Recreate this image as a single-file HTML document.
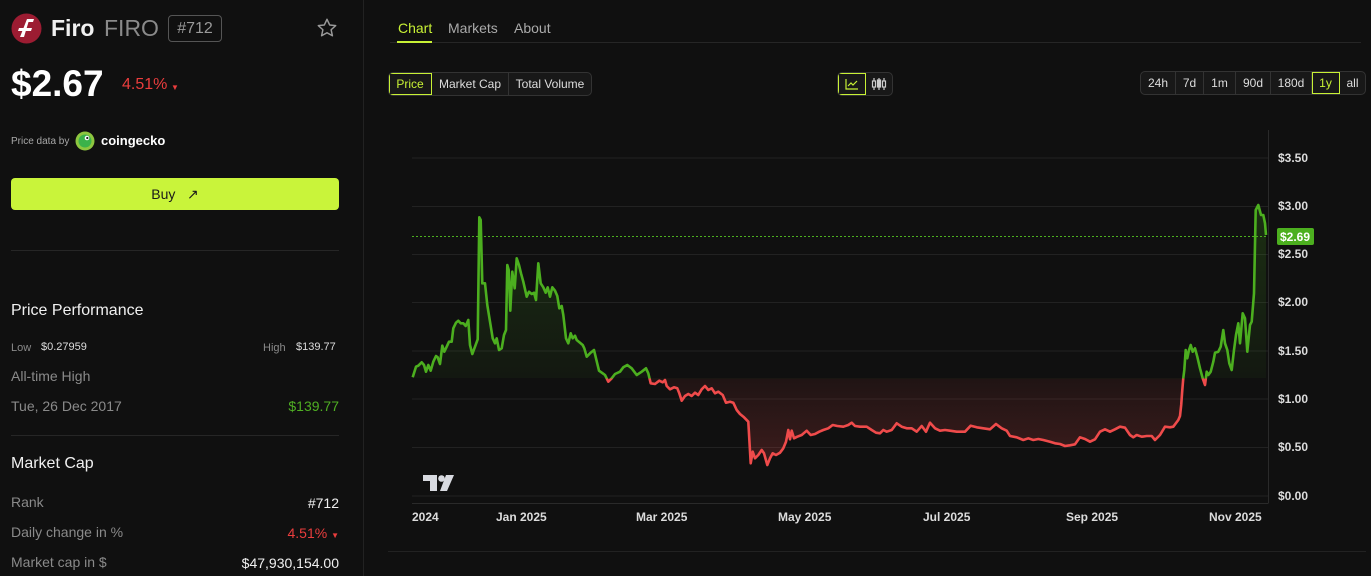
<!DOCTYPE html>
<html><head><meta charset="utf-8">
<style>
*{margin:0;padding:0;box-sizing:border-box}
body{width:1371px;height:576px;background:#101010;font-family:"Liberation Sans",Arial,sans-serif;overflow:hidden;position:relative;color:#eee}
.a{position:absolute;white-space:nowrap}
.g{color:#8a8a8a}
.w{color:#f0f0f0}
.r{color:#ea3d3d}
.seg{position:absolute;top:72px;height:24px;border:1px solid #333;background:#181818;border-radius:5px;display:flex;overflow:hidden}
.seg div{height:100%;display:flex;align-items:center;justify-content:center;font-size:12px;color:#ddd;border-right:1px solid #333}
.seg div:last-child{border-right:none}
.seg .on{color:#c8f135;outline:1px solid #c8f135;outline-offset:-1px}
.yl{position:absolute;left:1278px;font-size:12px;font-weight:bold;color:#dcdcdc;line-height:14px}
.xl{position:absolute;top:510px;font-size:12px;font-weight:bold;color:#dcdcdc;line-height:14px}
</style></head><body>

<!-- left panel -->
<div class="a" style="left:363px;top:0;width:1px;height:576px;background:#222"></div>
<svg class="a" style="left:11px;top:13px" width="31" height="31" viewBox="0 0 31 31">
<circle cx="15.5" cy="15.5" r="15" fill="#9c1c32"/>
<path d="M9 24 L13 24 L17.5 9 L22 9 L23 6 L16 6 Z" fill="#fff"/>
<path d="M7 18 L20 18 L21 15 L8 15 Z" fill="#fff"/>
</svg>
<div class="a w" style="left:51px;top:14px;font-size:23px;font-weight:bold;line-height:28px">Firo</div>
<div class="a" style="left:104px;top:14px;font-size:23px;color:#8a8a8a;line-height:28px">FIRO</div>
<div class="a" style="left:168px;top:15px;width:54px;height:27px;border:1px solid #555;border-radius:4px;font-size:16px;color:#9a9a9a;line-height:25px;text-align:center">#712</div>
<svg class="a" style="left:316px;top:17px" width="22" height="22" viewBox="0 0 24 24"><path d="M12 2.5l2.9 6.2 6.6.7-5 4.5 1.4 6.6L12 17.2l-5.9 3.3 1.4-6.6-5-4.5 6.6-.7z" fill="none" stroke="#9a9a9a" stroke-width="1.6" stroke-linejoin="round"/></svg>

<div class="a w" style="left:11px;top:63px;font-size:37px;font-weight:bold;line-height:42px;color:#fff">$2.67</div>
<div class="a r" style="left:122px;top:75px;font-size:16px;line-height:19px">4.51%</div>
<div class="a r" style="left:171px;top:83px;font-size:8px;line-height:10px">▼</div>

<div class="a" style="left:11px;top:136px;font-size:10px;color:#a8a8a8;line-height:12px">Price data by</div>
<svg class="a" style="left:75px;top:131px" width="20" height="20" viewBox="0 0 20 20"><circle cx="10" cy="10" r="9.5" fill="#8dc63f"/><circle cx="10" cy="10" r="6.5" fill="#3bb24a"/><circle cx="12" cy="7" r="2.3" fill="#fff"/><circle cx="12.3" cy="7" r="1.1" fill="#222"/></svg>
<div class="a" style="left:101px;top:133px;font-size:13px;font-weight:bold;color:#fff;line-height:16px">coingecko</div>

<div class="a" style="left:11px;top:178px;width:328px;height:32px;background:#c9f43a;border-radius:4px;font-size:14px;color:#1a1a1a;line-height:32px;text-align:center">Buy &nbsp; <span style="font-size:14px">↗</span></div>

<div class="a" style="left:11px;top:250px;width:328px;height:1px;background:#262626"></div>

<div class="a w" style="left:11px;top:301px;font-size:16px;line-height:19px">Price Performance</div>
<div class="a g" style="left:11px;top:342px;font-size:11px;line-height:13px">Low</div>
<div class="a" style="left:41px;top:341px;font-size:11px;color:#ddd;line-height:13px">$0.27959</div>
<div class="a g" style="left:263px;top:342px;font-size:11px;line-height:13px">High</div>
<div class="a" style="left:296px;top:341px;font-size:11px;color:#ddd;line-height:13px">$139.77</div>
<div class="a g" style="left:11px;top:368px;font-size:14px;line-height:16px">All-time High</div>
<div class="a g" style="left:11px;top:398px;font-size:14px;line-height:16px">Tue, 26 Dec 2017</div>
<div class="a" style="right:1032px;top:398px;font-size:14px;line-height:16px;color:#4fae23">$139.77</div>
<div class="a" style="left:11px;top:435px;width:328px;height:1px;background:#262626"></div>
<div class="a w" style="left:11px;top:454px;font-size:16px;line-height:19px">Market Cap</div>
<div class="a g" style="left:11px;top:494px;font-size:14px;line-height:16px">Rank</div>
<div class="a w" style="right:1032px;top:495px;font-size:14px;line-height:16px">#712</div>
<div class="a g" style="left:11px;top:524px;font-size:14px;line-height:16px">Daily change in %</div>
<div class="a r" style="right:1032px;top:525px;font-size:14px;line-height:16px">4.51% <span style="font-size:8px">▼</span></div>
<div class="a g" style="left:11px;top:554px;font-size:14px;line-height:16px">Market cap in $</div>
<div class="a w" style="right:1032px;top:555px;font-size:14px;line-height:16px">$47,930,154.00</div>

<!-- tabs -->
<div class="a" style="left:398px;top:20px;font-size:14px;color:#c8f135;line-height:17px">Chart</div>
<div class="a" style="left:448px;top:20px;font-size:14px;color:#aaa;line-height:17px">Markets</div>
<div class="a" style="left:514px;top:20px;font-size:14px;color:#aaa;line-height:17px">About</div>
<div class="a" style="left:390px;top:42px;width:971px;height:1px;background:#262626"></div>
<div class="a" style="left:397px;top:41px;width:35px;height:2px;background:#c8f135"></div>

<div class="seg" style="left:388px;width:204px">
<div class="on" style="width:43px">Price</div><div style="width:77px">Market Cap</div><div style="flex:1">Total Volume</div></div>
<div class="seg" style="left:837px;width:56px">
<div class="on" style="width:28px"><svg width="14" height="12" viewBox="0 0 14 12"><path d="M1 1V11H13" fill="none" stroke="#c8f135" stroke-width="1.2"/><path d="M3 8L6 5L8 7L12 3" fill="none" stroke="#c8f135" stroke-width="1.2"/></svg></div>
<div style="flex:1"><svg width="16" height="12" viewBox="0 0 16 12"><g fill="none" stroke="#ccc" stroke-width="1.2"><rect x="1.5" y="3" width="3" height="6"/><path d="M3 0V3M3 9V12"/><rect x="6.5" y="2" width="3" height="7" fill="#ccc"/><path d="M8 0V2M8 9V12"/><rect x="11.5" y="3" width="3" height="6"/><path d="M13 0V3M13 9V12"/></g></svg></div></div>
<div class="seg" style="left:1140px;width:226px;top:71px">
<div style="width:35px">24h</div><div style="width:28px">7d</div><div style="width:32px">1m</div><div style="width:35px">90d</div><div style="width:41px">180d</div><div class="on" style="width:28px">1y</div><div style="flex:1">all</div></div>

<!-- axis labels -->
<div class="yl" style="top:151px">$3.50</div>
<div class="yl" style="top:199px">$3.00</div>
<div class="yl" style="top:247px">$2.50</div>
<div class="yl" style="top:295px">$2.00</div>
<div class="yl" style="top:344px">$1.50</div>
<div class="yl" style="top:392px">$1.00</div>
<div class="yl" style="top:440px">$0.50</div>
<div class="yl" style="top:489px">$0.00</div>

<div class="xl" style="left:412px">2024</div>
<div class="xl" style="left:496px">Jan 2025</div>
<div class="xl" style="left:636px">Mar 2025</div>
<div class="xl" style="left:778px">May 2025</div>
<div class="xl" style="left:923px">Jul 2025</div>
<div class="xl" style="left:1066px">Sep 2025</div>
<div class="xl" style="left:1209px">Nov 2025</div>

<!-- chart -->
<svg class="a" style="left:0;top:0" width="1371" height="576" viewBox="0 0 1371 576">
<defs>
<clipPath id="cg"><rect x="400" y="100" width="880" height="278.5"/></clipPath>
<clipPath id="cr"><rect x="400" y="378.5" width="880" height="130"/></clipPath>
<linearGradient id="fg" gradientUnits="userSpaceOnUse" x1="0" y1="205" x2="0" y2="378"><stop offset="0" stop-color="#4caf1f" stop-opacity="0.2"/><stop offset="1" stop-color="#4caf1f" stop-opacity="0.05"/></linearGradient>
<linearGradient id="fr" gradientUnits="userSpaceOnUse" x1="0" y1="378" x2="0" y2="465"><stop offset="0" stop-color="#ef4b4b" stop-opacity="0.07"/><stop offset="1" stop-color="#ef4b4b" stop-opacity="0.2"/></linearGradient>
<polyline id="pl" points="412.7,377.3 416,366.7 418.3,365.7 421.7,362.3 424,365 426,371.7 428.3,365 430.7,370.7 433.3,361.7 436,356 437.7,357.3 440,364 442.3,345.7 444.3,351.7 446.7,346.7 449,341.7 451.7,341.7 453.3,328.3 456,322.7 458.3,320.7 460.7,323.3 463.3,323.3 465.7,326 468.3,320 470,345 472.3,354 475,346.7 477.7,339.3 479.3,217.3 480.7,220 482.3,283.3 485,283.3 487.3,305 490,321.7 492.7,338.3 495,343.3 496.7,338.3 499,350 501.7,348.3 504,335 506,330 507.3,265 508.7,270 510.3,310.7 512.3,271.7 514.7,288.3 516.7,258.3 519,265 521,273.3 523.3,281.7 526.7,296.7 529,291.7 531.7,294 534,292.7 536,300 538.3,263.3 540.7,283.3 543.3,287.3 545.7,292.7 547.7,287.3 550,296.7 552.3,287.3 555,290.7 557.3,296 559.3,308.3 561.7,306 563.3,315 566,338.3 568.3,343.3 570.7,333.3 572.7,338.3 575,335.7 576.7,340 580,342.7 582.7,345 584.3,348.3 586.7,356.7 590,353.3 594,350 596,358.3 599,370.7 602.7,373.3 605,375 608.3,381.7 611.7,378.3 615,374 620,371.7 623.3,367.3 627.3,365 631.7,368.3 636.7,375 641.7,371.7 646,368.3 648.3,373.3 650.7,383.3 655,384 659.3,380.7 662.7,382.3 665,380 666.7,386 670,389.3 674,387.3 677.3,388.3 679.3,393.3 681.7,400.7 685,396 688.3,394 691.7,396 695,392.7 698.3,395 701.7,389.3 705,386 708.3,390 711.7,388.3 715,393.3 718.3,391.7 722.7,395 726,402.7 730,401.7 733.3,402.7 736.7,410 740,414 744,417.3 748.3,421.7 750.7,463.3 752.7,451.7 755,458.3 758.3,455 761.7,450 764,453.3 767.3,465 770,458.3 772.7,453.3 776,455 780,452.7 783.3,448.3 786,441.7 788.3,430 790,439.3 791.7,430.7 794,438.3 797.3,436.7 801.7,435 806.7,430.7 810.7,435 815,434 819.3,431.7 823.3,430 828.3,428.3 832.7,425 837.3,426 843.3,426.7 848.3,425 851.7,422.7 855,426 860,426.7 866.7,426.7 871.7,430 876,432.7 880,433.3 883.3,430 886.7,431.7 891.7,430 896.7,423.3 901.7,426.7 906.7,428.3 911.7,428.3 916.7,431.7 921.7,426 926,431.7 930,422.7 935,428.3 940,430.7 945,430 950,430.7 956.7,431.7 965,431.7 970.7,425.7 976.7,427.3 983.3,428.3 990,429.3 996,424 1001.7,428.3 1006.7,430.7 1010,436 1016.7,437.3 1023.3,440 1028.3,438.3 1033.3,440 1038.3,439 1043.3,440 1050,441.7 1055,443.3 1060,444 1065,446 1070,445.3 1075,444.3 1080,437.3 1085,439 1090,441.7 1095,439.3 1100,431.7 1105,429.3 1110,431.7 1115,429.3 1120,426.7 1125,427.7 1130,435 1133.3,437.3 1136.7,435 1141.7,436.7 1146.7,436 1151.7,436 1155,440 1160,435 1165,426.7 1170,427.3 1173.3,426.7 1178.3,420 1180,416 1181.2,405 1182.3,390 1183.3,378 1184.3,370 1185.7,350 1187.3,358.3 1189,350 1190.7,345 1192.7,351.7 1195,348.3 1197.3,356.7 1200,368.3 1202.7,378.3 1205,385 1206.7,371.7 1208.3,375 1210.7,371.7 1213.3,361.7 1215,352.7 1218.3,351.7 1220.7,346.7 1223.3,330 1225,343.3 1227.3,350 1229.3,363.3 1231.7,370 1234,350 1236,335 1238.3,323.3 1240,343.3 1242.7,313.3 1245,318.3 1247.3,351.7 1250,325 1251.7,321.7 1254,293.3 1255.7,210 1258.3,205 1261,215 1263.3,215 1265,223.3 1266,235"/>
</defs>
<g stroke="#222" stroke-width="1">
<line x1="412" y1="158" x2="1268" y2="158"/>
<line x1="412" y1="206.5" x2="1268" y2="206.5"/>
<line x1="412" y1="254.5" x2="1268" y2="254.5"/>
<line x1="412" y1="302.5" x2="1268" y2="302.5"/>
<line x1="412" y1="351" x2="1268" y2="351"/>
<line x1="412" y1="399" x2="1268" y2="399"/>
<line x1="412" y1="447.5" x2="1268" y2="447.5"/>
<line x1="412" y1="496" x2="1268" y2="496"/>
</g>
<line x1="412" y1="503.5" x2="1268" y2="503.5" stroke="#2a2a2a"/>
<line x1="1268.5" y1="130" x2="1268.5" y2="503.5" stroke="#2a2a2a"/>
<line x1="388" y1="551.5" x2="1366" y2="551.5" stroke="#222"/>

<g clip-path="url(#cg)">
<polygon fill="url(#fg)" points="412.7,378 412.7,377.3 416,366.7 418.3,365.7 421.7,362.3 424,365 426,371.7 428.3,365 430.7,370.7 433.3,361.7 436,356 437.7,357.3 440,364 442.3,345.7 444.3,351.7 446.7,346.7 449,341.7 451.7,341.7 453.3,328.3 456,322.7 458.3,320.7 460.7,323.3 463.3,323.3 465.7,326 468.3,320 470,345 472.3,354 475,346.7 477.7,339.3 479.3,217.3 480.7,220 482.3,283.3 485,283.3 487.3,305 490,321.7 492.7,338.3 495,343.3 496.7,338.3 499,350 501.7,348.3 504,335 506,330 507.3,265 508.7,270 510.3,310.7 512.3,271.7 514.7,288.3 516.7,258.3 519,265 521,273.3 523.3,281.7 526.7,296.7 529,291.7 531.7,294 534,292.7 536,300 538.3,263.3 540.7,283.3 543.3,287.3 545.7,292.7 547.7,287.3 550,296.7 552.3,287.3 555,290.7 557.3,296 559.3,308.3 561.7,306 563.3,315 566,338.3 568.3,343.3 570.7,333.3 572.7,338.3 575,335.7 576.7,340 580,342.7 582.7,345 584.3,348.3 586.7,356.7 590,353.3 594,350 596,358.3 599,370.7 602.7,373.3 605,375 608.3,381.7 611.7,378.3 615,374 620,371.7 623.3,367.3 627.3,365 631.7,368.3 636.7,375 641.7,371.7 646,368.3 648.3,373.3 650.7,383.3 1180,416 1181.2,405 1182.3,390 1183.3,378 1184.3,370 1185.7,350 1187.3,358.3 1189,350 1190.7,345 1192.7,351.7 1195,348.3 1197.3,356.7 1200,368.3 1202.7,378.3 1205,385 1206.7,371.7 1208.3,375 1210.7,371.7 1213.3,361.7 1215,352.7 1218.3,351.7 1220.7,346.7 1223.3,330 1225,343.3 1227.3,350 1229.3,363.3 1231.7,370 1234,350 1236,335 1238.3,323.3 1240,343.3 1242.7,313.3 1245,318.3 1247.3,351.7 1250,325 1251.7,321.7 1254,293.3 1255.7,210 1258.3,205 1261,215 1263.3,215 1265,223.3 1266,235 1266,378"/>
</g>
<g clip-path="url(#cr)">
<polygon fill="url(#fr)" points="602.7,378 605,375 608.3,381.7 611.7,378.3 615,374 646,368.3 648.3,373.3 650.7,383.3 655,384 659.3,380.7 662.7,382.3 665,380 666.7,386 670,389.3 674,387.3 677.3,388.3 679.3,393.3 681.7,400.7 685,396 688.3,394 691.7,396 695,392.7 698.3,395 701.7,389.3 705,386 708.3,390 711.7,388.3 715,393.3 718.3,391.7 722.7,395 726,402.7 730,401.7 733.3,402.7 736.7,410 740,414 744,417.3 748.3,421.7 750.7,463.3 752.7,451.7 755,458.3 758.3,455 761.7,450 764,453.3 767.3,465 770,458.3 772.7,453.3 776,455 780,452.7 783.3,448.3 786,441.7 788.3,430 790,439.3 791.7,430.7 794,438.3 797.3,436.7 801.7,435 806.7,430.7 810.7,435 815,434 819.3,431.7 823.3,430 828.3,428.3 832.7,425 837.3,426 843.3,426.7 848.3,425 851.7,422.7 855,426 860,426.7 866.7,426.7 871.7,430 876,432.7 880,433.3 883.3,430 886.7,431.7 891.7,430 896.7,423.3 901.7,426.7 906.7,428.3 911.7,428.3 916.7,431.7 921.7,426 926,431.7 930,422.7 935,428.3 940,430.7 945,430 950,430.7 956.7,431.7 965,431.7 970.7,425.7 976.7,427.3 983.3,428.3 990,429.3 996,424 1001.7,428.3 1006.7,430.7 1010,436 1016.7,437.3 1023.3,440 1028.3,438.3 1033.3,440 1038.3,439 1043.3,440 1050,441.7 1055,443.3 1060,444 1065,446 1070,445.3 1075,444.3 1080,437.3 1085,439 1090,441.7 1095,439.3 1100,431.7 1105,429.3 1110,431.7 1115,429.3 1120,426.7 1125,427.7 1130,435 1133.3,437.3 1136.7,435 1141.7,436.7 1146.7,436 1151.7,436 1155,440 1160,435 1165,426.7 1170,427.3 1173.3,426.7 1178.3,420 1180,416 1181.2,405 1182.3,390 1183.3,378 1200,378 1202.7,378.3 1205,385 1206.7,371.7"/>
</g>

<use href="#pl" clip-path="url(#cg)" fill="none" stroke="#4caf1f" stroke-width="2.6" stroke-linejoin="round"/>
<use href="#pl" clip-path="url(#cr)" fill="none" stroke="#ef4b4b" stroke-width="2.6" stroke-linejoin="round"/>

<!-- last price dotted line & label -->
<line x1="412" y1="236.5" x2="1268" y2="236.5" stroke="#4caf1f" stroke-width="1" stroke-dasharray="2,2"/>
<rect x="1277" y="228" width="37" height="17" rx="2" fill="#4caf1f"/>
<text x="1280" y="241" font-family="Liberation Sans, sans-serif" font-size="12" font-weight="bold" fill="#fff">$2.69</text>

<!-- TV logo -->
<g fill="#d8dae0">
<path d="M423 475H437V491H430V481H423Z"/>
<circle cx="441.5" cy="478.5" r="3.3"/>
<path d="M446 475H454L447 491H440Z"/>
</g>
</svg>
</body></html>
